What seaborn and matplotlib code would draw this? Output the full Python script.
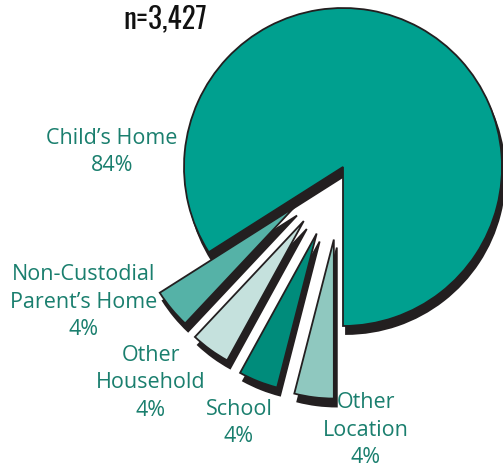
import matplotlib
matplotlib.use("Agg")
import matplotlib.pyplot as plt
import seaborn as sns
from matplotlib import font_manager

# Data
categories = ["Child\u2019s Home", "Non-Custodial\nParent\u2019s Home", "Other\nHousehold", "School", "Other\nLocation"]
shares = [84, 4, 4, 4, 4]
n_total = "n=3,427"

# Style
slice_colors = ["#00a08f", "#55b2a7", "#c5e1dd", "#008c7b", "#8fc8bf"]
explode = [0, 0.40, 0.42, 0.45, 0.46]
label_xy = [(112, 152), (84, 302), (151, 383), (239, 423), (366, 430)]  # pixel centres
TEXT_COLOR = "#1a7f6e"
EDGE = "#231f20"

installed = {f.name for f in font_manager.fontManager.ttflist}


def first_font(*names):
    for n in names:
        if n in installed:
            return n
    return "DejaVu Sans"


label_font = first_font("Open Sans", "Noto Sans")
title_font = first_font("Oswald", "Pathway Gothic One", "Antonio", "Roboto Condensed", "Barlow Condensed")

sns.set_theme(style="white")
plt.rcParams["font.family"] = [label_font, "DejaVu Sans"]

W, H = 503, 467
fig = plt.figure(figsize=(W / 100, H / 100), dpi=100)
ax = fig.add_axes([0, 0, 1, 1])

cx, cy, r = 343, 167, 159  # pie centre / radius in pixels
wedges, _ = ax.pie(
    shares,
    colors=slice_colors,
    explode=explode,
    startangle=270,
    counterclock=True,
    radius=1,
    wedgeprops={"edgecolor": EDGE, "linewidth": 1.3},
    shadow={"ox": 3 / r / 1.389, "oy": -8 / r / 1.389, "facecolor": EDGE,
            "edgecolor": EDGE, "alpha": 1},
)
ax.set_xlim(-cx / r, (W - cx) / r)
ax.set_ylim(-(H - cy) / r, cy / r)
ax.set_aspect("equal")
ax.axis("off")

for lab, pct, (px, py) in zip(categories, shares, label_xy):
    ax.text(px / W, 1 - py / H, f"{lab}\n{pct}%", transform=fig.transFigure,
            ha="center", va="center", color=TEXT_COLOR, fontsize=15.5,
            linespacing=1.42)

fig.text(165 / W, 1 - 19 / H, n_total, ha="center", va="center", fontsize=21,
         color="#111111", family=[title_font, "DejaVu Sans"], weight="light")

fig.savefig("out.png", dpi=100)
